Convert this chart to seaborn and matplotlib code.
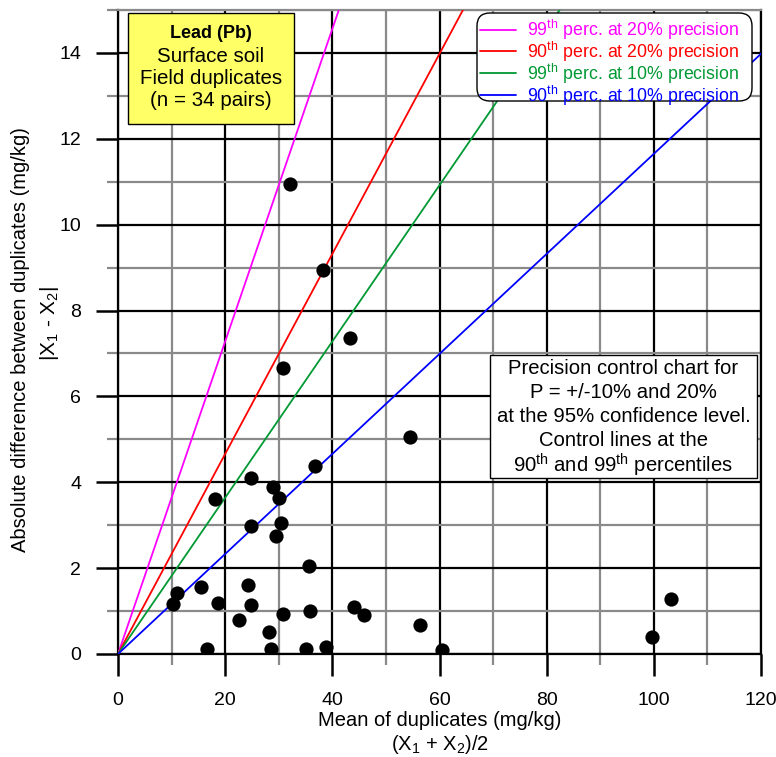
import matplotlib
matplotlib.use("Agg")
import matplotlib.pyplot as plt
import seaborn as sns
import numpy as np
import pandas as pd
from matplotlib.patches import Rectangle, FancyBboxPatch
from matplotlib.transforms import IdentityTransform
from matplotlib.ticker import MultipleLocator

# ---- data ----
mean_dup = [32.1, 38.3, 43.3, 30.8, 54.5, 36.8, 24.8, 29.0, 30.1, 18.1,
            24.8, 30.5, 29.4, 35.6, 10.95, 15.5, 24.3, 10.2, 18.6, 24.8,
            30.7, 35.9, 44.1, 46.0, 22.6, 28.1, 16.7, 28.6, 35.0, 38.9,
            56.4, 60.5, 99.7, 103.2]
abs_diff = [10.95, 8.95, 7.37, 6.65, 5.05, 4.37, 4.10, 3.89, 3.64, 3.60,
            2.99, 3.05, 2.74, 2.05, 1.43, 1.57, 1.61, 1.16, 1.18, 1.13,
            0.93, 1.00, 1.09, 0.90, 0.79, 0.51, 0.12, 0.11, 0.11, 0.16,
            0.67, 0.09, 0.40, 1.28]

line_labels = ["99$^{\\mathrm{th}}$ perc. at 20% precision",
               "90$^{\\mathrm{th}}$ perc. at 20% precision",
               "99$^{\\mathrm{th}}$ perc. at 10% precision",
               "90$^{\\mathrm{th}}$ perc. at 10% precision"]
line_slopes = [0.364, 0.233, 0.182, 0.1165]
line_colors = ["#FF00FF", "#FF0000", "#009933", "#0000FF"]
line_x_end = 140

x_ticks = [0, 20, 40, 60, 80, 100, 120]
y_ticks = [0, 2, 4, 6, 8, 10, 12, 14]

# ---- style ----
sns.set_style("white")
plt.rcParams['font.family'] = ['Liberation Sans', 'DejaVu Sans']
plt.rcParams['mathtext.fontset'] = 'custom'
plt.rcParams['mathtext.rm'] = 'Liberation Sans'
plt.rcParams['mathtext.it'] = 'Liberation Sans'
plt.rcParams['text.color'] = 'black'
plt.rcParams['axes.labelcolor'] = 'black'
plt.rcParams['xtick.color'] = 'black'
plt.rcParams['ytick.color'] = 'black'

W, H = 776, 757
fig = plt.figure(figsize=(W / 100, H / 100), dpi=100)
ax = fig.add_axes([118 / W, 103 / H, 643 / W, 644 / H])

# control lines
rows = []
for lab, s in zip(line_labels, line_slopes):
    rows.append({"x": 0, "y": 0, "line": lab})
    rows.append({"x": line_x_end, "y": s * line_x_end, "line": lab})
df_lines = pd.DataFrame(rows)
sns.lineplot(data=df_lines, x="x", y="y", hue="line", hue_order=line_labels,
             palette=line_colors, linewidth=1.3, ax=ax, zorder=3)

df_pts = pd.DataFrame({"x": mean_dup, "y": abs_diff})
sns.scatterplot(data=df_pts, x="x", y="y", s=105, color="black",
                edgecolor="black", linewidth=0, ax=ax, zorder=4, legend=False)

ax.set_xlim(0, 120)
ax.set_ylim(0, 15)
ax.set_xticks(x_ticks)
ax.set_yticks(y_ticks)
ax.xaxis.set_minor_locator(MultipleLocator(10))
ax.yaxis.set_minor_locator(MultipleLocator(1))
ax.grid(which="major", color="black", linewidth=1.6, zorder=0)
ax.grid(which="minor", color="#8a8a8a", linewidth=1.6, zorder=0)
ax.set_axisbelow(True)
ax.tick_params(axis="x", which="major", pad=11.5)
ax.tick_params(axis="y", which="major", pad=10.5)
ax.tick_params(which="major", direction="out", length=16, width=1.8,
               color="black", labelcolor="black", labelsize=14,
               bottom=True, left=True)
ax.tick_params(which="minor", direction="out", length=8, width=1.6,
               color="#8a8a8a", bottom=True, left=True)
for side in ["left", "bottom", "right"]:
    ax.spines[side].set_color("black")
    ax.spines[side].set_linewidth(1.6)
ax.spines["top"].set_color("#8a8a8a")
ax.spines["top"].set_linewidth(1.6)
ax.set_xlabel("")
ax.set_ylabel("")

# axis titles (placed in figure pixels)
fig.text(440 / W, 1 - 721 / H, "Mean of duplicates (mg/kg)", ha="center",
         va="center", fontsize=14.5)
fig.text(440 / W, 1 - 744 / H, "(X$_1$ + X$_2$)/2", ha="center",
         va="center", fontsize=14.5)
fig.text(21 / W, 1 - 340 / H, "Absolute difference between duplicates (mg/kg)",
         ha="center", va="center", rotation=90, fontsize=14.5)
fig.text(50 / W, 1 - 323 / H, "|X$_1$ - X$_2$|", ha="center", va="center",
         rotation=90, fontsize=15)

# legend (frame drawn separately as a rounded box)
leg = ax.legend(loc="upper right", bbox_to_anchor=((741 - 118) / 643, (654 - 15.5) / 644),
                fontsize=12.8, frameon=False, handlelength=2.0, handletextpad=0.6,
                labelspacing=-0.12, borderpad=0.12, borderaxespad=0)
for t, c in zip(leg.get_texts(), line_colors):
    t.set_color(c)
leg.set_zorder(7)

# rounded legend frame, in figure pixels (origin bottom-left)
lx0, lx1, ly_top, ly_bot = 477, 752, 13, 101
frame = FancyBboxPatch((lx0, H - ly_bot), lx1 - lx0, ly_bot - ly_top,
                       boxstyle="round,pad=0,rounding_size=13",
                       transform=IdentityTransform(), facecolor="white",
                       edgecolor="black", linewidth=1.0, zorder=6, clip_on=False)
ax.add_patch(frame)


def fx(px):
    return (px - 118) / 643


def fy(py):
    return (654 - py) / 644


# yellow info box
ax.add_patch(Rectangle((fx(128), fy(124)), fx(294) - fx(128), fy(13) - fy(124),
                       transform=ax.transAxes, facecolor="#FFFF66",
                       edgecolor="black", linewidth=1.0, zorder=5, clip_on=False))
cx = fx(211)
ax.text(cx, fy(34), "Lead (Pb)", transform=ax.transAxes, ha="center", va="center",
        fontsize=13, fontweight="bold", zorder=6)
for txt, py in zip(["Surface soil", "Field duplicates", "(n = 34 pairs)"], [56, 79, 101]):
    ax.text(cx, fy(py), txt, transform=ax.transAxes, ha="center", va="center",
            fontsize=14.8, zorder=6)

# precision note box
ax.add_patch(Rectangle((fx(490), fy(478)), fx(757) - fx(490), fy(355) - fy(478),
                       transform=ax.transAxes, facecolor="white",
                       edgecolor="black", linewidth=1.0, zorder=5, clip_on=False))
note_lines = ["Precision control chart for", "P = +/-10% and 20%",
              "at the 95% confidence level.", "Control lines at the",
              "90$^{\\mathrm{th}}$ and 99$^{\\mathrm{th}}$ percentiles"]
for txt, py in zip(note_lines, [369, 393, 417, 441, 465]):
    ax.text(fx(623.5), fy(py), txt, transform=ax.transAxes, ha="center",
            va="center", fontsize=14.6, zorder=6)

fig.savefig("out.png", dpi=100)
